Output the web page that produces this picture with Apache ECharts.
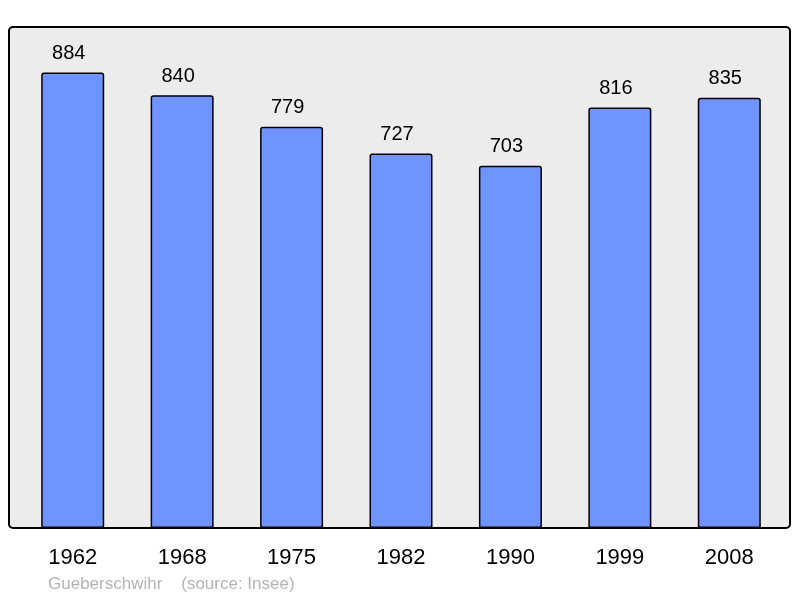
<!DOCTYPE html>
<html lang="fr">
<head>
    <meta charset="UTF-8">
    <title>Gueberschwihr</title>
    <script src="https://cdn.jsdelivr.net/npm/echarts@6/dist/echarts.min.js"></script>
    <style>
        html, body { margin: 0; padding: 0; background: #fff; }
    </style>
</head>
<body>
<div id="main" style="width:800px;height:598px;"></div>
<script>
    // années de recensement et population
    var years = ['1962', '1968', '1975', '1982', '1990', '1999', '2008'];
    var population = [884, 840, 779, 727, 703, 816, 835];
    var footer = 'Gueberschwihr    (source: Insee)';

    var myChart = echarts.init(document.getElementById('main'));

    var option = {
        animation: false,
        backgroundColor: '#ffffff',
        textStyle: { fontFamily: 'Liberation Sans, Arial, sans-serif' },
        graphic: [
            {
                type: 'rect',
                z: -10,
                shape: { x: 9, y: 27, width: 781, height: 501, r: 4 },
                style: { fill: '#ececec', stroke: '#000', lineWidth: 2 }
            },
            {
                type: 'text',
                left: 48,
                top: 576,
                style: {
                    text: footer,
                    fill: '#b4b4b4',
                    font: '17px "Liberation Sans", Arial, sans-serif'
                }
            }
        ],
        grid: { left: 18, right: 16, top: 27, bottom: 70 },
        xAxis: {
            type: 'category',
            data: years,
            axisLine: { show: false },
            axisTick: { show: false },
            axisLabel: { color: '#000', fontSize: 22, margin: 19 }
        },
        yAxis: {
            type: 'value',
            min: 0,
            max: 972.4,
            show: false,
            splitLine: { show: false }
        },
        series: [{
            type: 'bar',
            data: population,
            barWidth: 63,
            itemStyle: {
                color: '#7094ff',
                borderColor: '#000',
                borderWidth: 1.5,
                borderRadius: [2, 2, 0, 0]
            },
            label: {
                show: true,
                position: 'top',
                distance: 9,
                offset: [-4, 0],
                color: '#000',
                fontSize: 20
            }
        }]
    };

    myChart.setOption(option);
</script>
</body>
</html>
